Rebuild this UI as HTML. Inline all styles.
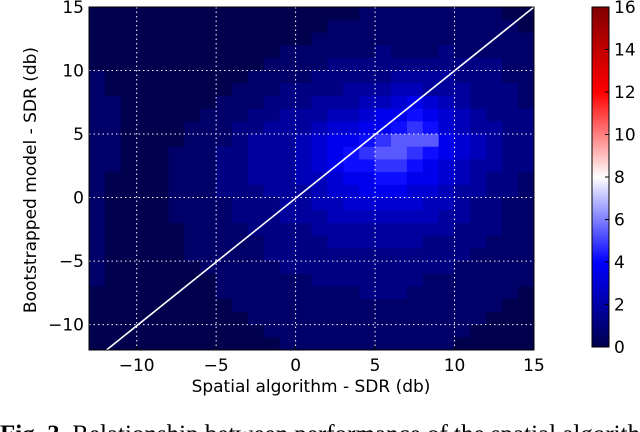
<!DOCTYPE html>
<html><head><meta charset="utf-8"><style>
body{margin:0;background:#fff;width:640px;height:432px;overflow:hidden;position:relative}
svg{position:absolute;left:0;top:0}
text{font-family:"DejaVu Sans","Liberation Sans",sans-serif;fill:#000}
</style></head><body>
<svg id="c" width="640" height="432"></svg>
<script>
const xTicks=[-10,-5,0,5,10,15];
const yTicks=[-10,-5,0,5,10,15];
const cbTicks=[0,2,4,6,8,10,12,14,16];
const xMin=-13, xMax=15, yMin=-12, yMax=15;
const rowCenters=[14.5,13.5,12.5,11.5,10.5,9.5,8.5,7.5,6.5,5.5,4.5,3.5,2.5,1.5,0.5,-0.5,-1.5,-2.5,-3.5,-4.5,-5.5,-6.5,-7.5,-8.5,-9.5,-10.5,-11.5];
const heatRows=[
"0000000000000000011111111100",
"0000000000000001111111111110",
"0000000000000011111111111111",
"0000000000001111112111211111",
"0000000000011112222222222211",
"1000000000111122222333322211",
"1000000001112222333443332221",
"1100000011122233344565432221",
"1100000111223334456676543222",
"1100001112233345566787543322",
"1100001112333456678999654322",
"1100011122333456789987654322",
"1100011122333456778876543322",
"1000011122333445667766543221",
"1000011122233345566655433221",
"1000011112223344555554432211",
"1000011112223334444444332211",
"1000001111222233333333322211",
"1000001111122223333332222111",
"1000001111122222222222221111",
"1000000111112222222222211111",
"1000000011111122222221111111",
"0000000011111111122211111110",
"0000000001111111111111111100",
"0000000000111111111111111000",
"0000000000011111111111110000",
"0000000000001111111111100000"];
const L=89,R=534,T=7,B=350;
const sx=v=>L+(v-xMin)/(xMax-xMin)*(R-L);
const sy=v=>T+(yMax-v)/(yMax-yMin)*(B-T);
function cmap(v){
  const t=Math.max(0,Math.min(1,v/16));
  const st=[[0,0,0,77],[0.25,0,0,255],[0.5,255,255,255],[0.75,255,0,0],[1,128,0,0]];
  for(let i=0;i<4;i++){const a=st[i],b=st[i+1];if(t<=b[0]){const f=(t-a[0])/(b[0]-a[0]);
  return `rgb(${Math.round(a[1]+f*(b[1]-a[1]))},${Math.round(a[2]+f*(b[2]-a[2]))},${Math.round(a[3]+f*(b[3]-a[3]))})`;}}
  return 'rgb(128,0,0)';
}
const NS='http://www.w3.org/2000/svg', svg=document.getElementById('c');
function mk(tag,at,parent){const e=document.createElementNS(NS,tag);for(const k in at)e.setAttribute(k,at[k]);(parent||svg).appendChild(e);return e;}
const bg=mk('rect',{x:L,y:T,width:R-L,height:B-T,fill:cmap(0)});


rowCenters.forEach((yc,r)=>{
  const s=heatRows[r];
  for(let i=0;i<s.length;i++){
    const v=+s[i]; const xc=xMin+0.5+i;
    const c=mk('rect',{x:sx(xc-0.5),y:sy(yc+0.5),width:sx(xc+0.5)-sx(xc-0.5)+0.3,height:sy(yc-0.5)-sy(yc+0.5)+0.3,fill:cmap(v*0.6)});
    
    
  }
});
xTicks.forEach(v=>{
  if(v>xMin&&v<xMax){const g=mk('line',{x1:sx(v),x2:sx(v),y1:T,y2:B,stroke:'#fff','stroke-width':1,'stroke-dasharray':'1.5,3'});
  }
  const t=mk('text',{x:sx(v),y:B+21,'text-anchor':'middle','font-size':17});t.textContent=v<0?'\u2212'+(-v):v;
  
  mk('line',{x1:sx(v),x2:sx(v),y1:B,y2:B-4,stroke:'#000'});
});
yTicks.forEach(v=>{
  if(v>yMin&&v<yMax){const g=mk('line',{x1:L,x2:R,y1:sy(v),y2:sy(v),stroke:'#fff','stroke-width':1,'stroke-dasharray':'1.5,3'});
  }
  const t=mk('text',{x:L-5,y:sy(v)+6,'text-anchor':'end','font-size':17});t.textContent=v<0?'\u2212'+(-v):v;
  
});
const dl=mk('line',{x1:sx(-11.9),y1:sy(-12),x2:sx(15),y2:sy(15),stroke:'#fff','stroke-width':1.6});

const fr=mk('rect',{x:L,y:T,width:R-L,height:B-T,fill:'none',stroke:'#000','stroke-width':1});

const cbL=592,cbR=609,cbT=7,cbB=347;
const defs=mk('defs',{});const gr=mk('linearGradient',{id:'g',x1:0,y1:1,x2:0,y2:0},defs);
for(let i=0;i<=16;i++)mk('stop',{offset:i/16,'stop-color':cmap(i)},gr);
const cb=mk('rect',{x:cbL,y:cbT,width:cbR-cbL,height:cbB-cbT,fill:'url(#g)',stroke:'#000'});

cbTicks.forEach(v=>{const y=cbB-v/16*(cbB-cbT);
  mk('line',{x1:cbR-4,x2:cbR,y1:y,y2:y,stroke:'#000'});
  const t=mk('text',{x:cbR+5,y:y+6,'font-size':17});t.textContent=v;
  });
</script>
<svg width="640" height="432" style="pointer-events:none">
<text x="311" y="392" text-anchor="middle" font-size="17">Spatial algorithm - SDR (db)</text>
<text transform="translate(36,180) rotate(-90)" text-anchor="middle" font-size="17">Bootstrapped model - SDR (db)</text>
<text x="0" y="442" style="font-family:'Liberation Serif',serif;font-size:25px"><tspan font-weight="bold">Fig. 3.</tspan>  Relationship between performance of the spatial algorithm</text>
</svg>
</body></html>
